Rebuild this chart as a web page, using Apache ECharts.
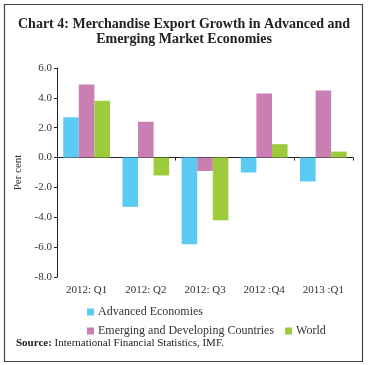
<!DOCTYPE html>
<html><head><meta charset="utf-8">
<script src="https://cdn.jsdelivr.net/npm/echarts@6/dist/echarts.min.js"></script>
<style>html,body{margin:0;padding:0;background:#fff}#c{width:368px;height:365px}</style>
</head><body><div id="c"></div>
<script>
var categories = ['2012: Q1', '2012: Q2', '2012: Q3', '2012 :Q4', '2013 :Q1'];
var advanced = [2.7, -3.3, -5.8, -1.0, -1.6];
var emerging = [4.9, 2.4, -0.9, 4.3, 4.5];
var world = [3.8, -1.2, -4.2, 0.9, 0.4];
var seriesNames = ['Advanced Economies', 'Emerging and Developing Countries', 'World'];
var yTicks = {min: -8, max: 6, interval: 2};

var serif = '"Liberation Serif", "DejaVu Serif", serif';
var chart = echarts.init(document.getElementById('c'), null, {renderer: 'canvas'});
var colors = ['#5ccbf3', '#c97fb1', '#9dcb3c'];
var legendText = {fontFamily: serif, fontSize: 12, color: '#333', padding: [0, 0, 0, -1]};
chart.setOption({
  animation: false,
  color: colors,
  title: {
    text: 'Chart 4: Merchandise Export Growth in Advanced and\nEmerging Market Economies',
    left: 'center', top: 12,
    textStyle: {fontFamily: serif, fontSize: 14, fontWeight: 'bold', color: '#222', lineHeight: 15}
  },
  graphic: [
    {type: 'rect', shape: {x: 4.5, y: 4.5, width: 358, height: 357}, style: {fill: 'none', stroke: '#444', lineWidth: 1.2}, silent: true},
    {type: 'text', left: 16, top: 338, style: {text: '{b|Source:} International Financial Statistics, IMF.', rich: {b: {fontWeight: 'bold', fontFamily: serif, fontSize: 11, fill: '#222'}}, fontFamily: serif, fontSize: 11, fill: '#222'}}
  ],
  legend: [
    {data: [seriesNames[0]], left: 87, top: 306, padding: 0, itemWidth: 7, itemHeight: 7, itemGap: 12, icon: 'rect',
     textStyle: legendText},
    {data: [seriesNames[1], seriesNames[2]], left: 87, top: 325, padding: 0, itemWidth: 7, itemHeight: 7, itemGap: 11, icon: 'rect',
     textStyle: legendText}
  ],
  grid: {left: 57, right: 15, top: 68, bottom: 88, containLabel: false},
  xAxis: [
    {type: 'category', data: categories, position: 'bottom',
     axisLine: {show: false, onZero: false}, axisTick: {show: false},
     axisLabel: {fontFamily: serif, fontSize: 11, color: '#333', margin: 8}},
    {type: 'category', data: categories, position: 'bottom',
     axisLine: {show: true, onZero: true, lineStyle: {color: '#222', width: 1}},
     axisTick: {show: true, length: 3, lineStyle: {color: '#222'}},
     axisLabel: {show: false}}
  ],
  yAxis: {
    type: 'value', min: yTicks.min, max: yTicks.max, interval: yTicks.interval,
    name: 'Per cent', nameLocation: 'middle', nameGap: 30, nameRotate: 90,
    nameTextStyle: {fontFamily: serif, fontSize: 11, color: '#333'},
    axisLine: {show: true, lineStyle: {color: '#222'}},
    axisTick: {show: true, length: 3, lineStyle: {color: '#222'}},
    axisLabel: {fontFamily: serif, fontSize: 11, color: '#333', margin: 5,
      formatter: function (v) { return v.toFixed(1); }},
    splitLine: {show: false}
  },
  series: [
    {name: seriesNames[0], type: 'bar', data: advanced, xAxisIndex: 0, barGap: '0%', barCategoryGap: '21%'},
    {name: seriesNames[1], type: 'bar', data: emerging, xAxisIndex: 0, barGap: '0%', barCategoryGap: '21%'},
    {name: seriesNames[2], type: 'bar', data: world, xAxisIndex: 0, barGap: '0%', barCategoryGap: '21%'}
  ]
});
</script></body></html>
